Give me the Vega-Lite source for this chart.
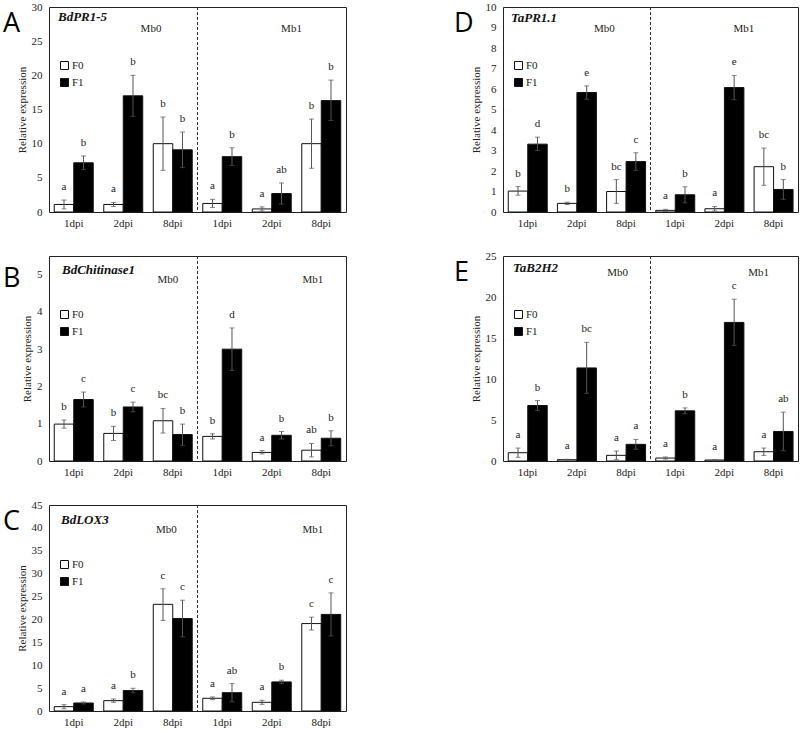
{
  "$schema": "https://vega.github.io/schema/vega-lite/v6.json",
  "padding": {"left": 2, "top": 0, "right": 0, "bottom": 0},
  "background": "white",
  "config": {
    "view": {"stroke": "#222", "strokeWidth": 1},
    "font": "Liberation Serif",
    "axis": {"grid": false, "ticks": false, "domain": false, "labelFont": "Liberation Serif", "labelFontSize": 11, "labelColor": "#222", "titleFont": "Liberation Serif", "titleFontWeight": "normal", "titleFontSize": 11, "titleColor": "#222"},
    "axisY": {"labelPadding": 7, "titlePadding": 4},
    "axisX": {"labelPadding": 5, "labelAngle": 0},
    "title": {"font": "Open Sans", "fontWeight": "normal", "fontSize": 27, "color": "black", "anchor": "start", "frame": "group", "dx": -46, "offset": -37, "baseline": "alphabetic"}
  },
  "datasets": {
    "A": [
      {"group": "Mb0-1dpi", "series": "F0", "mean": 1.1, "lo": 0.45, "hi": 1.75, "sig": "a"},
      {"group": "Mb0-1dpi", "series": "F1", "mean": 7.2, "lo": 6.2, "hi": 8.2, "sig": "b"},
      {"group": "Mb0-2dpi", "series": "F0", "mean": 1.1, "lo": 0.8, "hi": 1.4, "sig": "a"},
      {"group": "Mb0-2dpi", "series": "F1", "mean": 17.0, "lo": 14.0, "hi": 20.0, "sig": "b"},
      {"group": "Mb0-8dpi", "series": "F0", "mean": 10.0, "lo": 6.1, "hi": 13.9, "sig": "b"},
      {"group": "Mb0-8dpi", "series": "F1", "mean": 9.1, "lo": 6.5, "hi": 11.7, "sig": "b"},
      {"group": "Mb1-1dpi", "series": "F0", "mean": 1.25, "lo": 0.65, "hi": 1.85, "sig": "a"},
      {"group": "Mb1-1dpi", "series": "F1", "mean": 8.1, "lo": 6.8, "hi": 9.4, "sig": "b"},
      {"group": "Mb1-2dpi", "series": "F0", "mean": 0.45, "lo": 0.15, "hi": 0.75, "sig": "a"},
      {"group": "Mb1-2dpi", "series": "F1", "mean": 2.7, "lo": 1.15, "hi": 4.25, "sig": "ab"},
      {"group": "Mb1-8dpi", "series": "F0", "mean": 10.0, "lo": 6.4, "hi": 13.6, "sig": "b"},
      {"group": "Mb1-8dpi", "series": "F1", "mean": 16.3, "lo": 13.4, "hi": 19.3, "sig": "b"}
    ],
    "B": [
      {"group": "Mb0-1dpi", "series": "F0", "mean": 0.99, "lo": 0.88, "hi": 1.1, "sig": "b"},
      {"group": "Mb0-1dpi", "series": "F1", "mean": 1.65, "lo": 1.45, "hi": 1.85, "sig": "c"},
      {"group": "Mb0-2dpi", "series": "F0", "mean": 0.74, "lo": 0.55, "hi": 0.93, "sig": "b"},
      {"group": "Mb0-2dpi", "series": "F1", "mean": 1.45, "lo": 1.32, "hi": 1.58, "sig": "c"},
      {"group": "Mb0-8dpi", "series": "F0", "mean": 1.08, "lo": 0.75, "hi": 1.41, "sig": "bc"},
      {"group": "Mb0-8dpi", "series": "F1", "mean": 0.71, "lo": 0.42, "hi": 0.99, "sig": "b"},
      {"group": "Mb1-1dpi", "series": "F0", "mean": 0.66, "lo": 0.59, "hi": 0.73, "sig": "b"},
      {"group": "Mb1-1dpi", "series": "F1", "mean": 3.0, "lo": 2.43, "hi": 3.57, "sig": "d"},
      {"group": "Mb1-2dpi", "series": "F0", "mean": 0.23, "lo": 0.19, "hi": 0.28, "sig": "a"},
      {"group": "Mb1-2dpi", "series": "F1", "mean": 0.69, "lo": 0.59, "hi": 0.79, "sig": "b"},
      {"group": "Mb1-8dpi", "series": "F0", "mean": 0.29, "lo": 0.11, "hi": 0.47, "sig": "ab"},
      {"group": "Mb1-8dpi", "series": "F1", "mean": 0.61, "lo": 0.41, "hi": 0.81, "sig": "b"}
    ],
    "C": [
      {"group": "Mb0-1dpi", "series": "F0", "mean": 0.95, "lo": 0.5, "hi": 1.4, "sig": "a"},
      {"group": "Mb0-1dpi", "series": "F1", "mean": 1.75, "lo": 1.55, "hi": 1.97, "sig": "a"},
      {"group": "Mb0-2dpi", "series": "F0", "mean": 2.26, "lo": 1.9, "hi": 2.63, "sig": "a"},
      {"group": "Mb0-2dpi", "series": "F1", "mean": 4.46, "lo": 3.96, "hi": 4.97, "sig": "b"},
      {"group": "Mb0-8dpi", "series": "F0", "mean": 23.3, "lo": 19.8, "hi": 26.7, "sig": "c"},
      {"group": "Mb0-8dpi", "series": "F1", "mean": 20.2, "lo": 16.2, "hi": 24.2, "sig": "c"},
      {"group": "Mb1-1dpi", "series": "F0", "mean": 2.78, "lo": 2.48, "hi": 3.07, "sig": "a"},
      {"group": "Mb1-1dpi", "series": "F1", "mean": 4.0, "lo": 2.0, "hi": 6.0, "sig": "ab"},
      {"group": "Mb1-2dpi", "series": "F0", "mean": 1.9, "lo": 1.46, "hi": 2.34, "sig": "a"},
      {"group": "Mb1-2dpi", "series": "F1", "mean": 6.35, "lo": 5.98, "hi": 6.72, "sig": "b"},
      {"group": "Mb1-8dpi", "series": "F0", "mean": 19.1, "lo": 17.7, "hi": 20.5, "sig": "c"},
      {"group": "Mb1-8dpi", "series": "F1", "mean": 21.1, "lo": 16.4, "hi": 25.8, "sig": "c"}
    ],
    "D": [
      {"group": "Mb0-1dpi", "series": "F0", "mean": 1.02, "lo": 0.82, "hi": 1.24, "sig": "b"},
      {"group": "Mb0-1dpi", "series": "F1", "mean": 3.31, "lo": 3.0, "hi": 3.65, "sig": "d"},
      {"group": "Mb0-2dpi", "series": "F0", "mean": 0.42, "lo": 0.36, "hi": 0.48, "sig": "b"},
      {"group": "Mb0-2dpi", "series": "F1", "mean": 5.83, "lo": 5.5, "hi": 6.15, "sig": "e"},
      {"group": "Mb0-8dpi", "series": "F0", "mean": 1.0, "lo": 0.42, "hi": 1.58, "sig": "bc"},
      {"group": "Mb0-8dpi", "series": "F1", "mean": 2.46, "lo": 2.03, "hi": 2.89, "sig": "c"},
      {"group": "Mb1-1dpi", "series": "F0", "mean": 0.08, "lo": 0.03, "hi": 0.13, "sig": "a"},
      {"group": "Mb1-1dpi", "series": "F1", "mean": 0.84, "lo": 0.45, "hi": 1.23, "sig": "b"},
      {"group": "Mb1-2dpi", "series": "F0", "mean": 0.16, "lo": 0.05, "hi": 0.27, "sig": "a"},
      {"group": "Mb1-2dpi", "series": "F1", "mean": 6.07, "lo": 5.48, "hi": 6.66, "sig": "e"},
      {"group": "Mb1-8dpi", "series": "F0", "mean": 2.21, "lo": 1.3, "hi": 3.12, "sig": "bc"},
      {"group": "Mb1-8dpi", "series": "F1", "mean": 1.1, "lo": 0.62, "hi": 1.58, "sig": "b"}
    ],
    "E": [
      {"group": "Mb0-1dpi", "series": "F0", "mean": 1.01, "lo": 0.45, "hi": 1.58, "sig": "a"},
      {"group": "Mb0-1dpi", "series": "F1", "mean": 6.77, "lo": 6.17, "hi": 7.37, "sig": "b"},
      {"group": "Mb0-2dpi", "series": "F0", "mean": 0.16, "lo": 0.11, "hi": 0.21, "sig": "a"},
      {"group": "Mb0-2dpi", "series": "F1", "mean": 11.35, "lo": 8.25, "hi": 14.47, "sig": "bc"},
      {"group": "Mb0-8dpi", "series": "F0", "mean": 0.69, "lo": 0.16, "hi": 1.22, "sig": "a"},
      {"group": "Mb0-8dpi", "series": "F1", "mean": 2.03, "lo": 1.43, "hi": 2.63, "sig": "a"},
      {"group": "Mb1-1dpi", "series": "F0", "mean": 0.36, "lo": 0.23, "hi": 0.49, "sig": "a"},
      {"group": "Mb1-1dpi", "series": "F1", "mean": 6.12, "lo": 5.76, "hi": 6.48, "sig": "b"},
      {"group": "Mb1-2dpi", "series": "F0", "mean": 0.12, "lo": 0.09, "hi": 0.15, "sig": "a"},
      {"group": "Mb1-2dpi", "series": "F1", "mean": 16.9, "lo": 14.1, "hi": 19.73, "sig": "c"},
      {"group": "Mb1-8dpi", "series": "F0", "mean": 1.13, "lo": 0.68, "hi": 1.58, "sig": "a"},
      {"group": "Mb1-8dpi", "series": "F1", "mean": 3.6, "lo": 1.25, "hi": 5.96, "sig": "ab"}
    ]
  },
  "columns": 2,
  "spacing": {"row": 44, "column": 157},
  "bounds": "flush",
  "resolve": {"scale": {"fill": "independent"}, "legend": {"fill": "independent"}},
  "concat": [
    {
      "title": {"text": "A"},
      "width": 297, "height": 205,
      "data": {"name": "A"},
      "encoding": {
        "x": {"field": "group", "type": "nominal", "scale": {"domain": ["Mb0-1dpi", "Mb0-2dpi", "Mb0-8dpi", "Mb1-1dpi", "Mb1-2dpi", "Mb1-8dpi"], "paddingInner": 0, "paddingOuter": 0}, "axis": {"title": null, "labelExpr": "split(datum.value, '-')[1]"}},
        "xOffset": {"field": "series", "type": "nominal", "scale": {"domain": ["F0", "F1"], "paddingInner": 0, "paddingOuter": 0.27}},
        "y": {"field": "mean", "type": "quantitative", "scale": {"domain": [0, 30], "nice": false}, "axis": {"title": "Relative expression", "values": [0, 5, 10, 15, 20, 25, 30]}}
      },
      "layer": [
        {"mark": {"type": "bar", "stroke": "#111", "strokeWidth": 1},
         "encoding": {"fill": {"field": "series", "type": "nominal", "scale": {"domain": ["F0", "F1"], "range": ["white", "black"]},
           "legend": {"orient": "none", "legendX": 10, "legendY": 53, "title": null, "symbolType": "square", "symbolSize": 64, "symbolStrokeColor": "#111", "symbolStrokeWidth": 1, "labelFont": "Liberation Serif", "labelFontSize": 11, "labelColor": "#222", "rowPadding": 4, "padding": 0, "labelOffset": 2}}}},
        {"mark": {"type": "rule", "color": "#555", "strokeWidth": 1}, "encoding": {"y": {"field": "lo", "type": "quantitative"}, "y2": {"field": "hi"}}},
        {"mark": {"type": "tick", "color": "#555", "thickness": 1, "size": 5}, "encoding": {"y": {"field": "hi", "type": "quantitative"}}},
        {"mark": {"type": "tick", "color": "#555", "thickness": 1, "size": 5}, "encoding": {"y": {"field": "lo", "type": "quantitative"}}},
        {"mark": {"type": "text", "fontSize": 11, "color": "#222", "dy": -10, "baseline": "alphabetic"}, "encoding": {"y": {"field": "hi", "type": "quantitative"}, "text": {"field": "sig"}}},
        {"data": {"values": [{}]}, "mark": {"type": "rule", "color": "#333", "strokeWidth": 1, "strokeDash": [3, 2]}, "encoding": {"x": {"datum": "Mb0-8dpi", "bandPosition": 1}, "xOffset": null, "y": null}},
        {"transform": [{"filter": "datum.group == 'Mb0-1dpi' && datum.series == 'F0'"}], "mark": {"type": "text", "fontSize": 11, "color": "#222", "dx": 3}, "encoding": {"x": {"datum": "Mb0-2dpi", "bandPosition": 1}, "xOffset": null, "y": {"datum": 26.8}, "text": {"value": "Mb0"}}},
        {"transform": [{"filter": "datum.group == 'Mb0-1dpi' && datum.series == 'F0'"}], "mark": {"type": "text", "fontSize": 11, "color": "#222", "dx": -5}, "encoding": {"x": {"datum": "Mb1-2dpi", "bandPosition": 1}, "xOffset": null, "y": {"datum": 26.8}, "text": {"value": "Mb1"}}},
        {"transform": [{"filter": "datum.group == 'Mb0-1dpi' && datum.series == 'F0'"}], "mark": {"type": "text", "fontSize": 13, "fontStyle": "italic", "fontWeight": "bold", "color": "#111", "align": "left", "dx": 9, "baseline": "middle"}, "encoding": {"x": {"datum": "Mb0-1dpi", "bandPosition": 0}, "xOffset": null, "y": {"datum": 28.5}, "text": {"value": "BdPR1-5"}}}
      ]
    },
    {
      "title": {"text": "D", "dx": -49},
      "width": 295, "height": 205,
      "data": {"name": "D"},
      "encoding": {
        "x": {"field": "group", "type": "nominal", "scale": {"domain": ["Mb0-1dpi", "Mb0-2dpi", "Mb0-8dpi", "Mb1-1dpi", "Mb1-2dpi", "Mb1-8dpi"], "paddingInner": 0, "paddingOuter": 0}, "axis": {"title": null, "labelExpr": "split(datum.value, '-')[1]"}},
        "xOffset": {"field": "series", "type": "nominal", "scale": {"domain": ["F0", "F1"], "paddingInner": 0, "paddingOuter": 0.27}},
        "y": {"field": "mean", "type": "quantitative", "scale": {"domain": [0, 10], "nice": false}, "axis": {"title": "Relative expression", "values": [0, 1, 2, 3, 4, 5, 6, 7, 8, 9, 10]}}
      },
      "layer": [
        {"mark": {"type": "bar", "stroke": "#111", "strokeWidth": 1},
         "encoding": {"fill": {"field": "series", "type": "nominal", "scale": {"domain": ["F0", "F1"], "range": ["white", "black"]},
           "legend": {"orient": "none", "legendX": 10, "legendY": 53, "title": null, "symbolType": "square", "symbolSize": 64, "symbolStrokeColor": "#111", "symbolStrokeWidth": 1, "labelFont": "Liberation Serif", "labelFontSize": 11, "labelColor": "#222", "rowPadding": 4, "padding": 0, "labelOffset": 2}}}},
        {"mark": {"type": "rule", "color": "#555", "strokeWidth": 1}, "encoding": {"y": {"field": "lo", "type": "quantitative"}, "y2": {"field": "hi"}}},
        {"mark": {"type": "tick", "color": "#555", "thickness": 1, "size": 5}, "encoding": {"y": {"field": "hi", "type": "quantitative"}}},
        {"mark": {"type": "tick", "color": "#555", "thickness": 1, "size": 5}, "encoding": {"y": {"field": "lo", "type": "quantitative"}}},
        {"mark": {"type": "text", "fontSize": 11, "color": "#222", "dy": -10, "baseline": "alphabetic"}, "encoding": {"y": {"field": "hi", "type": "quantitative"}, "text": {"field": "sig"}}},
        {"data": {"values": [{}]}, "mark": {"type": "rule", "color": "#333", "strokeWidth": 1, "strokeDash": [3, 2]}, "encoding": {"x": {"datum": "Mb0-8dpi", "bandPosition": 1}, "xOffset": null, "y": null}},
        {"transform": [{"filter": "datum.group == 'Mb0-1dpi' && datum.series == 'F0'"}], "mark": {"type": "text", "fontSize": 11, "color": "#222", "dx": 3}, "encoding": {"x": {"datum": "Mb0-2dpi", "bandPosition": 1}, "xOffset": null, "y": {"datum": 8.93}, "text": {"value": "Mb0"}}},
        {"transform": [{"filter": "datum.group == 'Mb0-1dpi' && datum.series == 'F0'"}], "mark": {"type": "text", "fontSize": 11, "color": "#222", "dx": -5}, "encoding": {"x": {"datum": "Mb1-2dpi", "bandPosition": 1}, "xOffset": null, "y": {"datum": 8.93}, "text": {"value": "Mb1"}}},
        {"transform": [{"filter": "datum.group == 'Mb0-1dpi' && datum.series == 'F0'"}], "mark": {"type": "text", "fontSize": 13, "fontStyle": "italic", "fontWeight": "bold", "color": "#111", "align": "left", "dx": 8, "baseline": "middle"}, "encoding": {"x": {"datum": "Mb0-1dpi", "bandPosition": 0}, "xOffset": null, "y": {"datum": 9.46}, "text": {"value": "TaPR1.1"}}}
      ]
    },
    {
      "title": {"text": "B"},
      "width": 297, "height": 205,
      "data": {"name": "B"},
      "encoding": {
        "x": {"field": "group", "type": "nominal", "scale": {"domain": ["Mb0-1dpi", "Mb0-2dpi", "Mb0-8dpi", "Mb1-1dpi", "Mb1-2dpi", "Mb1-8dpi"], "paddingInner": 0, "paddingOuter": 0}, "axis": {"title": null, "labelExpr": "split(datum.value, '-')[1]"}},
        "xOffset": {"field": "series", "type": "nominal", "scale": {"domain": ["F0", "F1"], "paddingInner": 0, "paddingOuter": 0.27}},
        "y": {"field": "mean", "type": "quantitative", "scale": {"domain": [0, 5.5], "nice": false}, "axis": {"title": "Relative expression", "values": [0, 1, 2, 3, 4, 5]}}
      },
      "layer": [
        {"mark": {"type": "bar", "stroke": "#111", "strokeWidth": 1},
         "encoding": {"fill": {"field": "series", "type": "nominal", "scale": {"domain": ["F0", "F1"], "range": ["white", "black"]},
           "legend": {"orient": "none", "legendX": 10, "legendY": 53, "title": null, "symbolType": "square", "symbolSize": 64, "symbolStrokeColor": "#111", "symbolStrokeWidth": 1, "labelFont": "Liberation Serif", "labelFontSize": 11, "labelColor": "#222", "rowPadding": 4, "padding": 0, "labelOffset": 2}}}},
        {"mark": {"type": "rule", "color": "#555", "strokeWidth": 1}, "encoding": {"y": {"field": "lo", "type": "quantitative"}, "y2": {"field": "hi"}}},
        {"mark": {"type": "tick", "color": "#555", "thickness": 1, "size": 5}, "encoding": {"y": {"field": "hi", "type": "quantitative"}}},
        {"mark": {"type": "tick", "color": "#555", "thickness": 1, "size": 5}, "encoding": {"y": {"field": "lo", "type": "quantitative"}}},
        {"mark": {"type": "text", "fontSize": 11, "color": "#222", "dy": -10, "baseline": "alphabetic"}, "encoding": {"y": {"field": "hi", "type": "quantitative"}, "text": {"field": "sig"}}},
        {"data": {"values": [{}]}, "mark": {"type": "rule", "color": "#333", "strokeWidth": 1, "strokeDash": [3, 2]}, "encoding": {"x": {"datum": "Mb0-8dpi", "bandPosition": 1}, "xOffset": null, "y": null}},
        {"transform": [{"filter": "datum.group == 'Mb0-1dpi' && datum.series == 'F0'"}], "mark": {"type": "text", "fontSize": 11, "color": "#222"}, "encoding": {"x": {"datum": "Mb0-8dpi", "bandPosition": 0.4}, "xOffset": null, "y": {"datum": 4.86}, "text": {"value": "Mb0"}}},
        {"transform": [{"filter": "datum.group == 'Mb0-1dpi' && datum.series == 'F0'"}], "mark": {"type": "text", "fontSize": 11, "color": "#222"}, "encoding": {"x": {"datum": "Mb1-8dpi", "bandPosition": 0.33}, "xOffset": null, "y": {"datum": 4.86}, "text": {"value": "Mb1"}}},
        {"transform": [{"filter": "datum.group == 'Mb0-1dpi' && datum.series == 'F0'"}], "mark": {"type": "text", "fontSize": 13, "fontStyle": "italic", "fontWeight": "bold", "color": "#111", "align": "left", "dx": 13, "baseline": "middle"}, "encoding": {"x": {"datum": "Mb0-1dpi", "bandPosition": 0}, "xOffset": null, "y": {"datum": 5.12}, "text": {"value": "BdChitinase1"}}}
      ]
    },
    {
      "title": {"text": "E", "dx": -49},
      "width": 295, "height": 205,
      "data": {"name": "E"},
      "encoding": {
        "x": {"field": "group", "type": "nominal", "scale": {"domain": ["Mb0-1dpi", "Mb0-2dpi", "Mb0-8dpi", "Mb1-1dpi", "Mb1-2dpi", "Mb1-8dpi"], "paddingInner": 0, "paddingOuter": 0}, "axis": {"title": null, "labelExpr": "split(datum.value, '-')[1]"}},
        "xOffset": {"field": "series", "type": "nominal", "scale": {"domain": ["F0", "F1"], "paddingInner": 0, "paddingOuter": 0.27}},
        "y": {"field": "mean", "type": "quantitative", "scale": {"domain": [0, 25], "nice": false}, "axis": {"title": "Relative expression", "values": [0, 5, 10, 15, 20, 25]}}
      },
      "layer": [
        {"mark": {"type": "bar", "stroke": "#111", "strokeWidth": 1},
         "encoding": {"fill": {"field": "series", "type": "nominal", "scale": {"domain": ["F0", "F1"], "range": ["white", "black"]},
           "legend": {"orient": "none", "legendX": 10, "legendY": 53, "title": null, "symbolType": "square", "symbolSize": 64, "symbolStrokeColor": "#111", "symbolStrokeWidth": 1, "labelFont": "Liberation Serif", "labelFontSize": 11, "labelColor": "#222", "rowPadding": 4, "padding": 0, "labelOffset": 2}}}},
        {"mark": {"type": "rule", "color": "#555", "strokeWidth": 1}, "encoding": {"y": {"field": "lo", "type": "quantitative"}, "y2": {"field": "hi"}}},
        {"mark": {"type": "tick", "color": "#555", "thickness": 1, "size": 5}, "encoding": {"y": {"field": "hi", "type": "quantitative"}}},
        {"mark": {"type": "tick", "color": "#555", "thickness": 1, "size": 5}, "encoding": {"y": {"field": "lo", "type": "quantitative"}}},
        {"mark": {"type": "text", "fontSize": 11, "color": "#222", "dy": -10, "baseline": "alphabetic"}, "encoding": {"y": {"field": "hi", "type": "quantitative"}, "text": {"field": "sig"}}},
        {"data": {"values": [{}]}, "mark": {"type": "rule", "color": "#333", "strokeWidth": 1, "strokeDash": [3, 2]}, "encoding": {"x": {"datum": "Mb0-8dpi", "bandPosition": 1}, "xOffset": null, "y": null}},
        {"transform": [{"filter": "datum.group == 'Mb0-1dpi' && datum.series == 'F0'"}], "mark": {"type": "text", "fontSize": 11, "color": "#222"}, "encoding": {"x": {"datum": "Mb0-8dpi", "bandPosition": 0.33}, "xOffset": null, "y": {"datum": 22.9}, "text": {"value": "Mb0"}}},
        {"transform": [{"filter": "datum.group == 'Mb0-1dpi' && datum.series == 'F0'"}], "mark": {"type": "text", "fontSize": 11, "color": "#222"}, "encoding": {"x": {"datum": "Mb1-8dpi", "bandPosition": 0.2}, "xOffset": null, "y": {"datum": 22.9}, "text": {"value": "Mb1"}}},
        {"transform": [{"filter": "datum.group == 'Mb0-1dpi' && datum.series == 'F0'"}], "mark": {"type": "text", "fontSize": 13, "fontStyle": "italic", "fontWeight": "bold", "color": "#111", "align": "left", "dx": 10, "baseline": "middle"}, "encoding": {"x": {"datum": "Mb0-1dpi", "bandPosition": 0}, "xOffset": null, "y": {"datum": 23.5}, "text": {"value": "TaB2H2"}}}
      ]
    },
    {
      "title": {"text": "C"},
      "width": 297, "height": 206,
      "data": {"name": "C"},
      "encoding": {
        "x": {"field": "group", "type": "nominal", "scale": {"domain": ["Mb0-1dpi", "Mb0-2dpi", "Mb0-8dpi", "Mb1-1dpi", "Mb1-2dpi", "Mb1-8dpi"], "paddingInner": 0, "paddingOuter": 0}, "axis": {"title": null, "labelExpr": "split(datum.value, '-')[1]"}},
        "xOffset": {"field": "series", "type": "nominal", "scale": {"domain": ["F0", "F1"], "paddingInner": 0, "paddingOuter": 0.27}},
        "y": {"field": "mean", "type": "quantitative", "scale": {"domain": [0, 45], "nice": false}, "axis": {"title": "Relative expression", "values": [0, 5, 10, 15, 20, 25, 30, 35, 40, 45]}}
      },
      "layer": [
        {"mark": {"type": "bar", "stroke": "#111", "strokeWidth": 1},
         "encoding": {"fill": {"field": "series", "type": "nominal", "scale": {"domain": ["F0", "F1"], "range": ["white", "black"]},
           "legend": {"orient": "none", "legendX": 10, "legendY": 54, "title": null, "symbolType": "square", "symbolSize": 64, "symbolStrokeColor": "#111", "symbolStrokeWidth": 1, "labelFont": "Liberation Serif", "labelFontSize": 11, "labelColor": "#222", "rowPadding": 4, "padding": 0, "labelOffset": 2}}}},
        {"mark": {"type": "rule", "color": "#555", "strokeWidth": 1}, "encoding": {"y": {"field": "lo", "type": "quantitative"}, "y2": {"field": "hi"}}},
        {"mark": {"type": "tick", "color": "#555", "thickness": 1, "size": 5}, "encoding": {"y": {"field": "hi", "type": "quantitative"}}},
        {"mark": {"type": "tick", "color": "#555", "thickness": 1, "size": 5}, "encoding": {"y": {"field": "lo", "type": "quantitative"}}},
        {"mark": {"type": "text", "fontSize": 11, "color": "#222", "dy": -10, "baseline": "alphabetic"}, "encoding": {"y": {"field": "hi", "type": "quantitative"}, "text": {"field": "sig"}}},
        {"data": {"values": [{}]}, "mark": {"type": "rule", "color": "#333", "strokeWidth": 1, "strokeDash": [3, 2]}, "encoding": {"x": {"datum": "Mb0-8dpi", "bandPosition": 1}, "xOffset": null, "y": null}},
        {"transform": [{"filter": "datum.group == 'Mb0-1dpi' && datum.series == 'F0'"}], "mark": {"type": "text", "fontSize": 11, "color": "#222"}, "encoding": {"x": {"datum": "Mb0-8dpi", "bandPosition": 0.37}, "xOffset": null, "y": {"datum": 39.5}, "text": {"value": "Mb0"}}},
        {"transform": [{"filter": "datum.group == 'Mb0-1dpi' && datum.series == 'F0'"}], "mark": {"type": "text", "fontSize": 11, "color": "#222"}, "encoding": {"x": {"datum": "Mb1-8dpi", "bandPosition": 0.33}, "xOffset": null, "y": {"datum": 39.5}, "text": {"value": "Mb1"}}},
        {"transform": [{"filter": "datum.group == 'Mb0-1dpi' && datum.series == 'F0'"}], "mark": {"type": "text", "fontSize": 13, "fontStyle": "italic", "fontWeight": "bold", "color": "#111", "align": "left", "dx": 12, "baseline": "middle"}, "encoding": {"x": {"datum": "Mb0-1dpi", "bandPosition": 0}, "xOffset": null, "y": {"datum": 41.7}, "text": {"value": "BdLOX3"}}}
      ]
    }
  ]
}
